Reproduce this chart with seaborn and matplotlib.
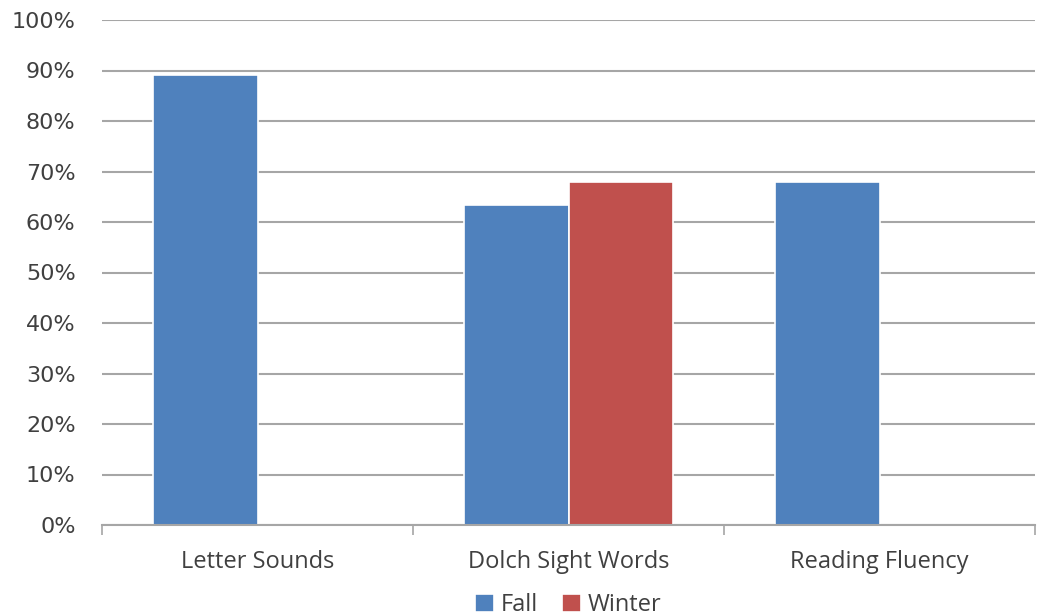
import matplotlib
matplotlib.use("Agg")
import matplotlib.pyplot as plt
import seaborn as sns
import pandas as pd
import numpy as np
from matplotlib.ticker import FixedLocator, PercentFormatter

categories = ["Letter Sounds", "Dolch Sight Words", "Reading Fluency"]
fall = [89.1, 63.4, 67.9]
winter = [np.nan, 67.9, np.nan]
seasons = ["Fall", "Winter"]
colors = ["#4F81BD", "#C0504D"]

df = pd.DataFrame({
    "Category": categories * 2,
    "Season": ["Fall"] * 3 + ["Winter"] * 3,
    "Value": fall + winter,
})

sns.set_style("white")
fig = plt.figure(figsize=(10.37, 6.16), dpi=100)
ax = fig.add_axes([102/1037, 1 - 525/616, (1035-102)/1037, (525-20)/616])

sns.barplot(data=df, x="Category", y="Value", hue="Season", order=categories,
            hue_order=seasons, palette=colors, width=0.67, saturation=1,
            edgecolor="white", linewidth=1.2, ax=ax, legend=True)

ax.set_ylim(0, 100)
ax.set_xlim(-0.5, 2.5)
ax.set_yticks(np.arange(0, 101, 10))
ax.yaxis.set_major_formatter(PercentFormatter(decimals=0))
ax.grid(axis="y", color="#A6A6A6", linewidth=1.5)
ax.set_axisbelow(True)
for s in ["top", "right", "left"]:
    ax.spines[s].set_visible(False)
ax.spines["bottom"].set_color("#A6A6A6")
ax.spines["bottom"].set_linewidth(1.5)
ax.set_xlabel("")
ax.set_ylabel("")
ax.tick_params(axis="y", length=0, pad=19, labelsize=16, labelcolor="#404040")
ax.tick_params(axis="x", which="major", bottom=True, length=0, pad=18, labelsize=17, labelcolor="#404040")
ax.xaxis.set_minor_locator(FixedLocator([-0.5, 0.5, 1.5, 2.5]))
ax.tick_params(axis="x", which="minor", bottom=True, length=7, width=1.2, color="#A6A6A6", direction="out")
for lab in ax.get_xticklabels():
    lab.set_family(["Open Sans", "DejaVu Sans"])

leg = ax.legend(loc="center", bbox_to_anchor=(0.5, -0.158), ncol=2, frameon=False,
                handlelength=0.8, handleheight=0.8, handletextpad=0.3,
                columnspacing=1.0, prop={"family": ["Open Sans", "DejaVu Sans"], "size": 17})
for t in leg.get_texts():
    t.set_color("#404040")

fig.savefig("out.png", dpi=100)
